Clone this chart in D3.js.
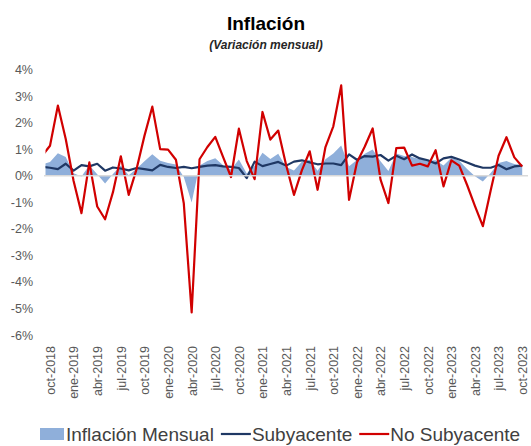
<!DOCTYPE html>
<html>
<head>
<meta charset="utf-8">
<script src="https://cdn.jsdelivr.net/npm/d3@7"></script>
<style>
  body { margin: 0; background: #fff; }
  text { font-family: "Liberation Sans", Arial, sans-serif; }
</style>
</head>
<body>
<svg id="chart" width="531" height="446"></svg>
<script>
// months (the first one is only partly visible at the left edge)
const months = [
  "sep-2018", "oct-2018", "nov-2018", "dic-2018",
  "ene-2019", "feb-2019", "mar-2019", "abr-2019", "may-2019", "jun-2019", "jul-2019", "ago-2019", "sep-2019", "oct-2019", "nov-2019", "dic-2019",
  "ene-2020", "feb-2020", "mar-2020", "abr-2020", "may-2020", "jun-2020", "jul-2020", "ago-2020", "sep-2020", "oct-2020", "nov-2020", "dic-2020",
  "ene-2021", "feb-2021", "mar-2021", "abr-2021", "may-2021", "jun-2021", "jul-2021", "ago-2021", "sep-2021", "oct-2021", "nov-2021", "dic-2021",
  "ene-2022", "feb-2022", "mar-2022", "abr-2022", "may-2022", "jun-2022", "jul-2022", "ago-2022", "sep-2022", "oct-2022", "nov-2022", "dic-2022",
  "ene-2023", "feb-2023", "mar-2023", "abr-2023", "may-2023", "jun-2023", "jul-2023", "ago-2023", "sep-2023", "oct-2023"
];

// monthly change, %
const inflacion = [
  0.42, 0.52, 0.85, 0.70,
  0.09, -0.03, 0.39, 0.05, -0.29, 0.06, 0.38, 0.02, 0.26, 0.54, 0.81, 0.56,
  0.48, 0.42, -0.05, -1.01, 0.38, 0.55, 0.66, 0.39, 0.23, 0.61, 0.08, 0.38,
  0.86, 0.63, 0.83, 0.33, 0.20, 0.53, 0.59, 0.19, 0.62, 0.84, 1.14, 0.36,
  0.59, 0.83, 0.99, 0.54, 0.18, 0.84, 0.74, 0.70, 0.62, 0.57, 0.58, 0.38,
  0.68, 0.56, 0.25, -0.02, -0.22, 0.10, 0.48, 0.55, 0.44, 0.39
];

const subyacente = [
  0.33, 0.30, 0.25, 0.45,
  0.19, 0.40, 0.35, 0.45, 0.19, 0.31, 0.27, 0.20, 0.29, 0.25, 0.20, 0.41,
  0.33, 0.29, 0.33, 0.28, 0.33, 0.38, 0.40, 0.35, 0.33, 0.29, -0.09, 0.53,
  0.36, 0.44, 0.52, 0.38, 0.53, 0.58, 0.50, 0.43, 0.46, 0.46, 0.40, 0.80,
  0.60, 0.74, 0.72, 0.78, 0.57, 0.75, 0.62, 0.80, 0.65, 0.58, 0.46, 0.65,
  0.71, 0.61, 0.50, 0.38, 0.30, 0.30, 0.40, 0.24, 0.35, 0.38
];

const noSubyacente = [
  0.75, 1.13, 2.64, 1.38,
  -0.20, -1.41, 0.50, -1.16, -1.64, -0.62, 0.73, -0.72, 0.25, 1.50, 2.60, 1.00,
  0.98, 0.60, -1.04, -5.15, 0.62, 1.08, 1.46, 0.70, -0.05, 1.77, 0.55, -0.13,
  2.40, 1.36, 1.70, 0.40, -0.72, 0.20, 0.92, -0.53, 1.08, 1.86, 3.40, -0.91,
  0.50, 1.10, 1.78, -0.15, -1.03, 1.04, 1.06, 0.38, 0.45, 0.35, 0.96, -0.40,
  0.58, 0.38, -0.35, -1.15, -1.90, -0.55, 0.75, 1.45, 0.69, 0.35
];

const yTicks = [-6, -5, -4, -3, -2, -1, 0, 1, 2, 3, 4];
const xTickLabels = [
  "oct-2018", "ene-2019", "abr-2019", "jul-2019", "oct-2019", "ene-2020", "abr-2020",
  "jul-2020", "oct-2020", "ene-2021", "abr-2021", "jul-2021", "oct-2021", "ene-2022",
  "abr-2022", "jul-2022", "oct-2022", "ene-2023", "abr-2023", "jul-2023", "oct-2023"
];

const colors = { area: "#8fafda", core: "#1f3864", nonCore: "#d10000" };

const svg = d3.select("#chart");

// month step is ~7.87px, oct-2018 sits at x=50
const step = 7.87;
const x = d3.scalePoint().domain(months).range([50 - step, 50 + 60 * step]);
const y = d3.scaleLinear().domain([-6, 4]).range([335, 69.5]);

const rows = months.map((m, i) => ({ m: m, inf: inflacion[i], core: subyacente[i], nc: noSubyacente[i] }));

// clip so the september point only shows as a stub
svg.append("clipPath").attr("id", "plot")
   .append("rect").attr("x", 45.5).attr("y", 0).attr("width", 485).attr("height", 446);

const plot = svg.append("g").attr("clip-path", "url(#plot)");

// area
plot.append("path")
    .datum(rows)
    .attr("fill", colors.area)
    .attr("d", d3.area().x(d => x(d.m)).y0(y(0)).y1(d => y(d.inf)));

// zero line
svg.append("line")
   .attr("x1", 44).attr("x2", 528)
   .attr("y1", y(0)).attr("y2", y(0))
   .attr("stroke", "#d9d9d9").attr("stroke-width", 1.5);

// lines
plot.append("path")
    .datum(rows)
    .attr("fill", "none")
    .attr("stroke", colors.core)
    .attr("stroke-width", 2.2)
    .attr("stroke-linejoin", "round")
    .attr("d", d3.line().x(d => x(d.m)).y(d => y(d.core)));

plot.append("path")
    .datum(rows)
    .attr("fill", "none")
    .attr("stroke", colors.nonCore)
    .attr("stroke-width", 2.2)
    .attr("stroke-linejoin", "round")
    .attr("d", d3.line().x(d => x(d.m)).y(d => y(d.nc)));

// y axis (labels only)
const yAxis = svg.append("g")
   .attr("transform", "translate(33,0)")
   .call(d3.axisLeft(y).tickValues(yTicks).tickSize(0).tickPadding(0).tickFormat(d => d + "%"));
yAxis.select(".domain").remove();
yAxis.selectAll("text")
     .attr("fill", "#595959")
     .style("font-size", "12.5px");

// x axis (rotated labels at the bottom)
const xAxis = svg.append("g")
   .attr("transform", "translate(0,346)")
   .call(d3.axisBottom(x).tickValues(xTickLabels).tickSize(0).tickPadding(0));
xAxis.select(".domain").remove();
xAxis.selectAll("text")
     .attr("transform", "rotate(-90)")
     .attr("x", 0)
     .attr("y", 0)
     .attr("dy", "0.35em")
     .attr("text-anchor", "end")
     .attr("fill", "#595959")
     .style("font-size", "12.5px");

// title
svg.append("text")
   .attr("x", 266).attr("y", 30)
   .attr("text-anchor", "middle")
   .style("font-size", "19px").style("font-weight", "bold")
   .text("Inflación");

svg.append("text")
   .attr("x", 266).attr("y", 49)
   .attr("text-anchor", "middle")
   .style("font-size", "12px").style("font-weight", "bold").style("font-style", "italic")
   .attr("fill", "#262626")
   .text("(Variación mensual)");

// legend
const legendY = 434;
const legend = svg.append("g").style("font-size", "19px").attr("fill", "#404040");
let lx = 40;

legend.append("rect")
      .attr("x", lx).attr("y", legendY - 6).attr("width", 24).attr("height", 12)
      .attr("fill", colors.area);
lx += 26;
let t = legend.append("text").attr("x", lx).attr("y", legendY).attr("dy", "0.35em").text("Inflación Mensual");
lx += t.node().getComputedTextLength() + 7;

legend.append("line")
      .attr("x1", lx).attr("x2", lx + 30).attr("y1", legendY).attr("y2", legendY)
      .attr("stroke", colors.core).attr("stroke-width", 2.2);
lx += 31;
t = legend.append("text").attr("x", lx).attr("y", legendY).attr("dy", "0.35em").text("Subyacente");
lx += t.node().getComputedTextLength() + 7;

legend.append("line")
      .attr("x1", lx).attr("x2", lx + 30).attr("y1", legendY).attr("y2", legendY)
      .attr("stroke", colors.nonCore).attr("stroke-width", 2.2);
lx += 31;
legend.append("text").attr("x", lx).attr("y", legendY).attr("dy", "0.35em").text("No Subyacente");
</script>
</body>
</html>
